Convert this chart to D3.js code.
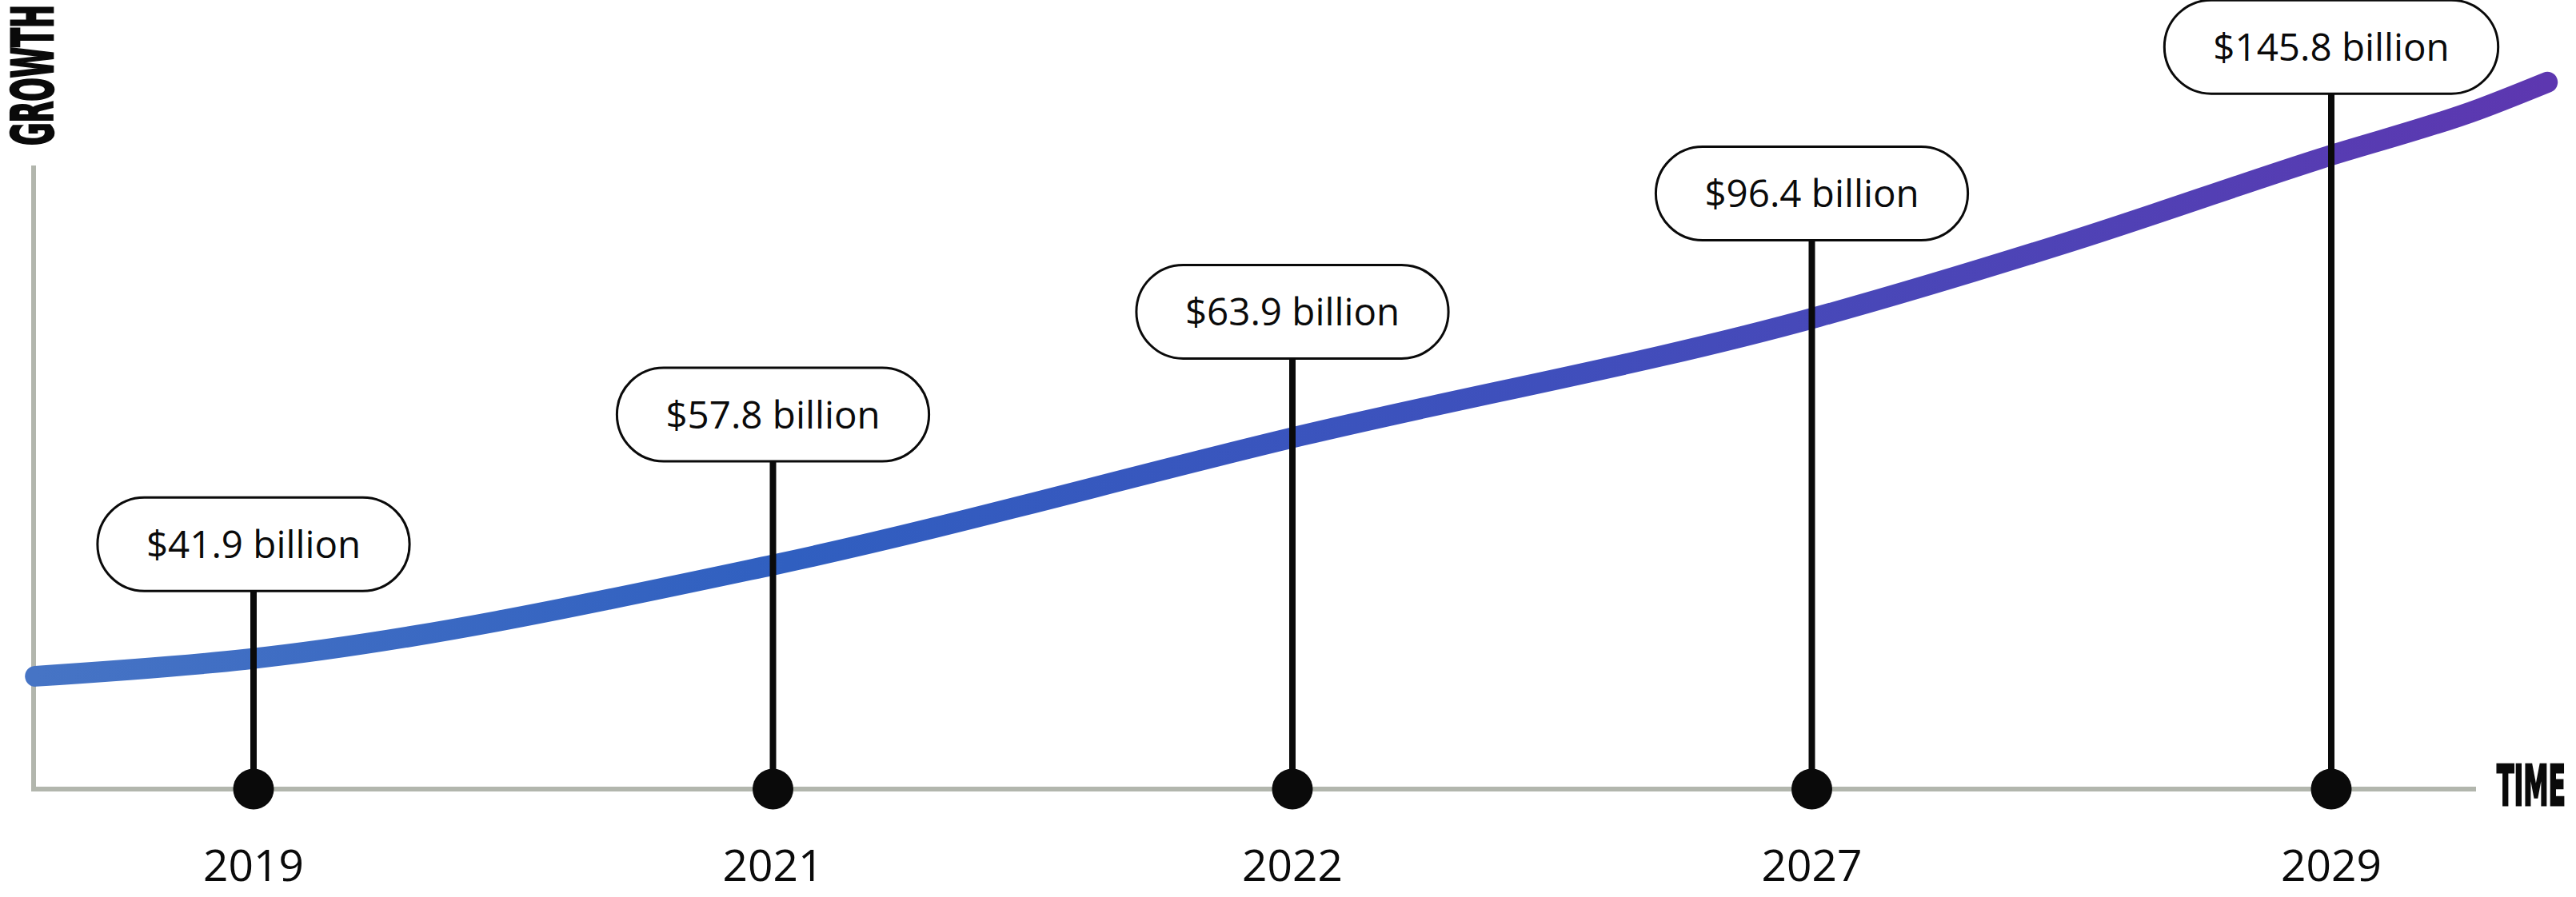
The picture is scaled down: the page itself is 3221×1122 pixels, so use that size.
<!DOCTYPE html>
<html>
<head>
<meta charset="utf-8">
<script src="https://cdn.jsdelivr.net/npm/d3@7"></script>
<style>
  html, body { margin: 0; padding: 0; background: #ffffff; }
  svg { display: block; }
</style>
</head>
<body>
<div id="chart"></div>
<script>
// ---- data ----
const years = ["2019", "2021", "2022", "2027", "2029"];
const marketLabels = ["$41.9 billion", "$57.8 billion", "$63.9 billion", "$96.4 billion", "$145.8 billion"];
// height (growth index, 0-100) at which each callout bubble sits
const labelLevels = [31.9, 48.8, 62.2, 77.6, 96.7];
// decorative growth curve: position along the time axis (in category steps) and growth index
const curveT = [-0.42, -0.015, 1.0, 2.02, 3.015, 3.5, 3.977, 4.285, 4.416];
const curveV = [14.7, 16.9, 29.2, 46.1, 61.6, 71.4, 82.1, 88.6, 92.1];
const axisTitleX = "TIME";
const axisTitleY = "GROWTH";

// ---- layout ----
const W = 3221, H = 1122;
const x0 = 42, yBase = 987, yTop = 207, xEnd = 3096;

const svg = d3.select("#chart").append("svg")
  .attr("width", W).attr("height", H);

const x = d3.scalePoint().domain(years).range([317, 2915]);
const xt = d3.scaleLinear().domain([0, years.length - 1]).range([317, 2915]);
const y = d3.scaleLinear().domain([0, 100]).range([yBase, 27]);

// gradient
const defs = svg.append("defs");
const grad = defs.append("linearGradient").attr("id", "lineGrad")
  .attr("gradientUnits", "userSpaceOnUse")
  .attr("x1", xt(curveT[0])).attr("x2", xt(curveT[curveT.length - 1]))
  .attr("y1", 0).attr("y2", 0);
[["0%", "#4674c5"], ["30%", "#305fc0"], ["60%", "#3f4fbc"], ["100%", "#5d37b0"]]
  .forEach(([o, c]) => grad.append("stop").attr("offset", o).attr("stop-color", c));

// axes (custom styled)
const axisColor = "#b2b6ad";
svg.append("line").attr("x1", x0).attr("x2", x0).attr("y1", yTop).attr("y2", yBase + 3)
  .attr("stroke", axisColor).attr("stroke-width", 6);
svg.append("line").attr("x1", x0 - 3).attr("x2", xEnd).attr("y1", yBase).attr("y2", yBase)
  .attr("stroke", axisColor).attr("stroke-width", 6);

// growth curve
const pts = curveT.map((t, i) => [xt(t), y(curveV[i])]);
svg.append("path")
  .attr("d", d3.line().curve(d3.curveMonotoneX)(pts))
  .attr("fill", "none")
  .attr("stroke", "url(#lineGrad)")
  .attr("stroke-width", 26)
  .attr("stroke-linecap", "round");

// stems, dots, bubbles
const boxH = 117, padX = 61, fs = 47.5;
const g = svg.append("g");
years.forEach((yr, i) => {
  const cx = x(yr), cy = y(labelLevels[i]);
  g.append("line").attr("x1", cx).attr("x2", cx)
    .attr("y1", cy + boxH / 2).attr("y2", yBase)
    .attr("stroke", "#0a0a0a").attr("stroke-width", 8);
  g.append("circle").attr("cx", cx).attr("cy", yBase).attr("r", 25.5).attr("fill", "#0a0a0a");

  const rect = g.append("rect");
  const txt = g.append("text")
    .attr("x", cx).attr("y", cy + fs * 0.714 / 2 + 0.5)
    .attr("text-anchor", "middle")
    .attr("font-family", "'Open Sans', 'Noto Sans', sans-serif")
    .attr("font-size", fs)
    .attr("fill", "#0a0a0a")
    .text(marketLabels[i]);
  const tw = txt.node().getComputedTextLength();
  const bw = tw + padX * 2;
  rect.attr("x", cx - bw / 2).attr("y", cy - boxH / 2)
    .attr("width", bw).attr("height", boxH)
    .attr("rx", boxH / 2).attr("ry", boxH / 2)
    .attr("fill", "#ffffff").attr("stroke", "#0a0a0a").attr("stroke-width", 3);

  g.append("text")
    .attr("x", cx).attr("y", 1102)
    .attr("text-anchor", "middle")
    .attr("font-family", "'Open Sans', 'Noto Sans', sans-serif")
    .attr("font-size", 55)
    .attr("fill", "#0a0a0a")
    .text(yr);
});

// axis titles (condensed, tall)
const titleFont = "'Liberation Sans Narrow', 'DejaVu Sans Condensed', 'Liberation Sans', sans-serif";
function fitTitle(sel, targetLen) {
  const n = sel.node().getComputedTextLength();
  if (n > targetLen) sel.attr("textLength", targetLen).attr("lengthAdjust", "spacingAndGlyphs");
}
const ty = svg.append("text")
  .attr("transform", `translate(66, 94) rotate(-90) scale(1, 1.5)`)
  .attr("text-anchor", "middle")
  .attr("font-family", titleFont)
  .attr("font-weight", 700)
  .attr("font-size", 47)
  .attr("fill", "#0a0a0a").attr("stroke", "#0a0a0a").attr("stroke-width", 1.8)
  .text(axisTitleY);
fitTitle(ty, 176);
const tx = svg.append("text")
  .attr("transform", `translate(3122, 1007) scale(1, 1.55)`)
  .attr("font-family", titleFont)
  .attr("font-weight", 700)
  .attr("font-size", 45)
  .attr("fill", "#0a0a0a").attr("stroke", "#0a0a0a").attr("stroke-width", 1.8)
  .text(axisTitleX);
fitTitle(tx, 86);
</script>
</body>
</html>
